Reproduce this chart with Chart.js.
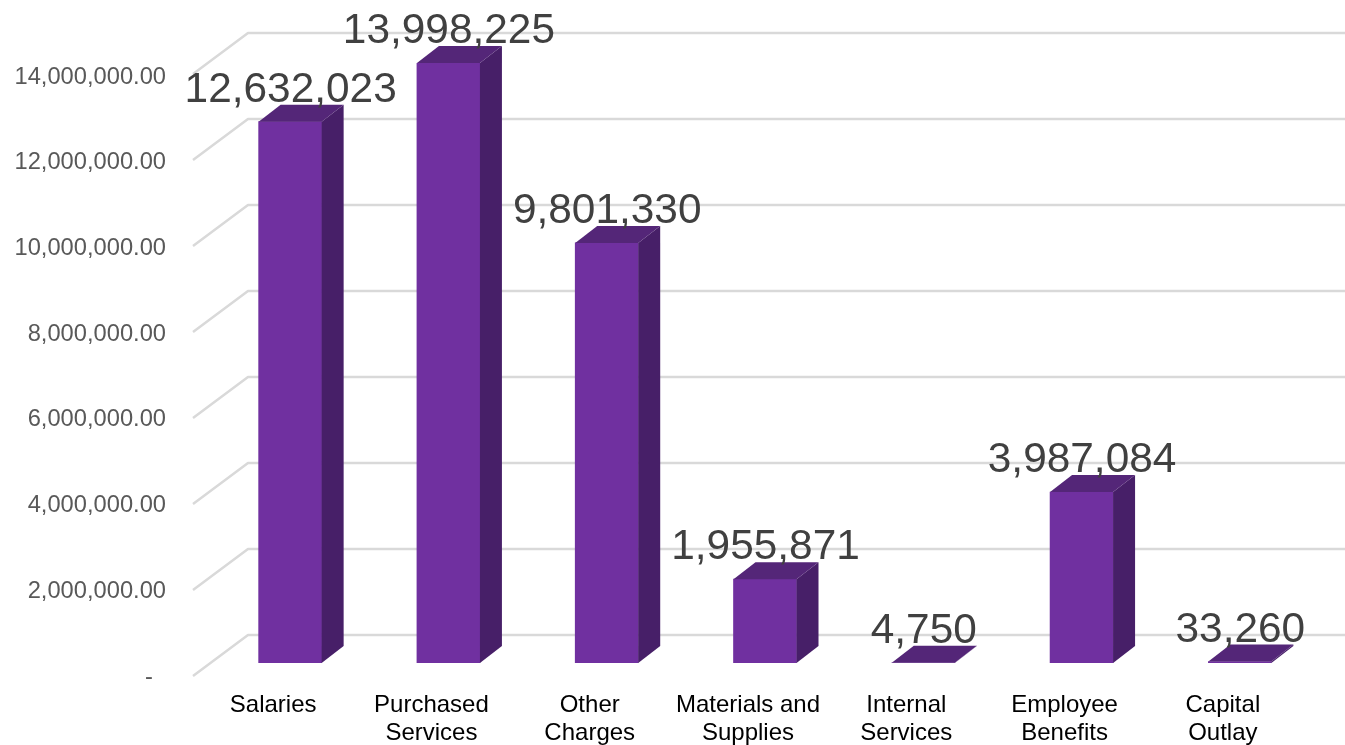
<!DOCTYPE html>
<html lang="en">

<head>
    <meta charset="UTF-8">
    <title>Expenditures by Category</title>
    <script src="https://cdn.jsdelivr.net/npm/chart.js"></script>
    <style>
        html, body {
            margin: 0;
            padding: 0;
            background: #fff;
            overflow: hidden;
        }

        canvas {
            display: block;
        }
    </style>
</head>

<body>
    <canvas id="spendingChart" width="1345" height="745"></canvas>

    <script>
        const categories = [
            ['Salaries'],
            ['Purchased', 'Services'],
            ['Other', 'Charges'],
            ['Materials and', 'Supplies'],
            ['Internal', 'Services'],
            ['Employee', 'Benefits'],
            ['Capital', 'Outlay']
        ];
        const amounts = [12632023, 13998225, 9801330, 1955871, 4750, 3987084, 33260];

        const FONT = '"Liberation Sans", Arial, sans-serif';
        const Y_MAX = 14000000;
        const Y_STEP = 2000000;

        // fake 3D: how far the bar depth and the back wall sit from the front plane
        const BAR_DEPTH_X = 22;
        const BAR_DEPTH_Y = 17;
        const WALL_DEPTH_X = 55;
        const WALL_DEPTH_Y = 41;
        const WALL_LIFT = 28;

        const fillPoly = (ctx, color, pts) => {
            ctx.fillStyle = color;
            ctx.beginPath();
            pts.forEach(([x, y], i) => (i ? ctx.lineTo(x, y) : ctx.moveTo(x, y)));
            ctx.closePath();
            ctx.fill();
        };

        const wallGrid = {
            id: 'wallGrid',
            beforeDatasetsDraw(chart) {
                const { ctx, scales: { y }, width } = chart;
                const base = y.getPixelForValue(0);
                const wallX = 248;
                ctx.save();
                ctx.strokeStyle = '#d9d9d9';
                ctx.lineWidth = 2.5;
                ctx.lineJoin = 'round';
                for (let v = 0; v <= Y_MAX; v += Y_STEP) {
                    // wall is a touch taller than the front plane
                    const wallY = base - WALL_LIFT - (base - y.getPixelForValue(v)) * 1.0033;
                    ctx.beginPath();
                    ctx.moveTo(wallX - WALL_DEPTH_X, wallY + WALL_DEPTH_Y);
                    ctx.lineTo(wallX, wallY);
                    ctx.lineTo(width, wallY);
                    ctx.stroke();
                }
                ctx.restore();
            }
        };

        const barFaces = {
            id: 'barFaces',
            afterDatasetsDraw(chart) {
                const { ctx } = chart;
                const dx = BAR_DEPTH_X;
                const dy = BAR_DEPTH_Y;
                ctx.save();
                chart.getDatasetMeta(0).data.forEach(bar => {
                    const left = bar.x - bar.width / 2;
                    const right = bar.x + bar.width / 2;
                    fillPoly(ctx, '#471f68', [[right, bar.y], [right + dx, bar.y - dy], [right + dx, bar.base - dy], [right, bar.base]]);
                    fillPoly(ctx, '#542678', [[left, bar.y], [left + dx, bar.y - dy], [right + dx, bar.y - dy], [right, bar.y]]);
                });
                ctx.restore();
            }
        };

        const valueLabels = {
            id: 'valueLabels',
            afterDraw(chart) {
                const { ctx } = chart;
                ctx.save();
                ctx.font = `42.4px ${FONT}`;
                ctx.fillStyle = '#404040';
                ctx.textAlign = 'center';
                ctx.textBaseline = 'alphabetic';
                chart.getDatasetMeta(0).data.forEach((bar, i) => {
                    ctx.fillText(amounts[i].toLocaleString('en-US'), bar.x + 0.5, bar.y - 20);
                });
                ctx.restore();
            }
        };

        new Chart(document.getElementById('spendingChart'), {
            type: 'bar',
            data: {
                labels: categories,
                datasets: [{
                    data: amounts,
                    backgroundColor: '#7030a0',
                    barThickness: 63,
                    minBarLength: 0
                }]
            },
            options: {
                responsive: false,
                animation: false,
                layout: { padding: { top: 63, right: 26, bottom: 0, left: 0 } },
                plugins: {
                    legend: { display: false },
                    tooltip: { enabled: false }
                },
                scales: {
                    x: {
                        grid: { display: false },
                        border: { display: false },
                        afterFit: scale => { scale.height = 82; },
                        ticks: {
                            color: '#000000',
                            font: { family: FONT, size: 24, lineHeight: 1.17 },
                            labelOffset: -17,
                            padding: 20,
                            maxRotation: 0,
                            autoSkip: false
                        }
                    },
                    y: {
                        min: 0,
                        max: Y_MAX,
                        grid: { display: false },
                        border: { display: false },
                        afterFit: scale => { scale.width = 211; },
                        ticks: {
                            stepSize: Y_STEP,
                            color: '#595959',
                            font: { family: FONT, size: 23.7 },
                            labelOffset: 14,
                            padding: 37,
                            callback: v => (v === 0 ? '-  ' : v.toLocaleString('en-US', { minimumFractionDigits: 2 }))
                        }
                    }
                }
            },
            plugins: [wallGrid, barFaces, valueLabels]
        });
    </script>
</body>

</html>
